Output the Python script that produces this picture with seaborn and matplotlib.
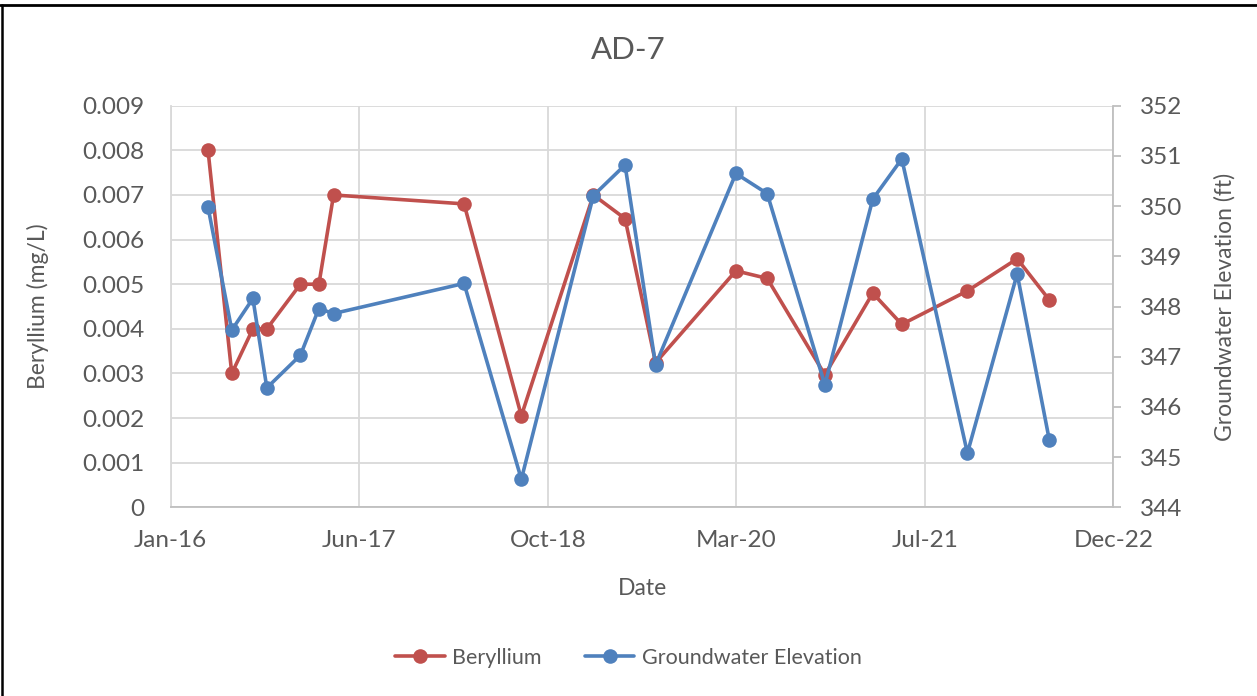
import matplotlib
matplotlib.use("Agg")
import matplotlib.pyplot as plt
import matplotlib.dates as mdates
from matplotlib.lines import Line2D
import pandas as pd
import seaborn as sns

# ---- data ----
dates = ["2016-05-09", "2016-07-11", "2016-09-05", "2016-10-12", "2017-01-09",
         "2017-02-27", "2017-04-07", "2018-03-19", "2018-08-18", "2019-02-25",
         "2019-05-20", "2019-08-09", "2020-03-09", "2020-05-31", "2020-10-31",
         "2021-03-07", "2021-05-23", "2021-11-13", "2022-03-25", "2022-06-18"]
beryllium = [0.0080, 0.0030, 0.0040, 0.0040, 0.0050,
             0.0050, 0.0070, 0.0068, 0.00205, 0.0070,
             0.00647, 0.00324, 0.0053, 0.00513, 0.00297,
             0.0048, 0.0041, 0.00485, 0.00557, 0.00465]
groundwater = [349.98, 347.53, 348.16, 346.38, 347.03,
               347.96, 347.86, 348.46, 344.56, 350.21,
               350.82, 346.84, 350.65, 350.25, 346.44,
               350.14, 350.94, 345.08, 348.65, 345.35]
x_ticks = ["2016-01-31", "2017-06-14", "2018-10-27", "2020-03-10", "2021-07-23", "2022-12-05"]
series_names = ["Beryllium", "Groundwater Elevation"]

RED = "#C0504D"
BLUE = "#4F81BD"
TXT = "#595959"
GRID = "#D9D9D9"

sns.set_style("white")
plt.rcParams["font.family"] = ["Lato", "DejaVu Sans"]

df = pd.DataFrame({"date": pd.to_datetime(dates), "be": beryllium, "gw": groundwater})

fig = plt.figure(figsize=(12.57, 6.96), dpi=100)
ax = fig.add_axes([0.1358, 0.2711, 0.7499, 0.5770])
ax2 = ax.twinx()

sns.lineplot(data=df, x="date", y="be", ax=ax, color=RED, lw=2.6, marker="o",
             markersize=10.5, markeredgewidth=0, legend=False)
sns.lineplot(data=df, x="date", y="gw", ax=ax2, color=BLUE, lw=2.6, marker="o",
             markersize=10.5, markeredgewidth=0, legend=False)

tick_dates = pd.to_datetime(x_ticks)
ax.set_xlim(tick_dates[0], tick_dates[-1])
ax.set_xticks(tick_dates)
ax.xaxis.set_major_formatter(mdates.DateFormatter("%b-%y"))

ax.set_ylim(0, 0.009)
ax.set_yticks([i * 0.001 for i in range(10)])
ax.set_yticklabels(["0"] + [f"{i*0.001:.3f}" for i in range(1, 10)])
ax2.set_ylim(344, 352)
ax2.set_yticks(range(344, 353))

ax.grid(True, color=GRID, lw=1.3)
ax.set_axisbelow(True)
ax2.grid(False)

for a in (ax, ax2):
    for s in a.spines.values():
        s.set_visible(False)
ax.spines["bottom"].set_visible(True)
ax.spines["bottom"].set_color("#BFBFBF")
ax.spines["bottom"].set_linewidth(1.3)
ax.spines["left"].set_visible(True)
ax.spines["left"].set_color(GRID)
ax.spines["left"].set_linewidth(1.3)
ax2.spines["right"].set_visible(True)
ax2.spines["right"].set_color("#BFBFBF")
ax2.spines["right"].set_linewidth(1.3)

ax.tick_params(axis="y", length=0, pad=19, labelsize=17.5, labelcolor=TXT)
ax.tick_params(axis="x", length=0, pad=16, labelsize=17.5, labelcolor=TXT)
ax2.tick_params(axis="y", length=6, width=1.3, color="#BFBFBF", direction="out",
                pad=13, labelsize=17.5, labelcolor=TXT)

ax.set_xlabel("Date", fontsize=16.5, color=TXT)
ax.set_ylabel("Beryllium (mg/L)", fontsize=16.5, color=TXT)
ax2.set_ylabel("Groundwater Elevation (ft)", fontsize=16.5, color=TXT)
ax.xaxis.label.set_va("center")
ax.yaxis.label.set_va("center")
ax2.yaxis.label.set_va("center")
ax.xaxis.set_label_coords(0.5, -0.201)
ax.yaxis.set_label_coords(-0.141, 0.5)
ax2.yaxis.set_label_coords(1.1185, 0.5)

fig.text(0.5, 1 - 50 / 696, "AD-7", ha="center", va="center", fontsize=22.5, color=TXT)

handles = [Line2D([], [], color=RED, lw=2.6, marker="o", markersize=10.5, markeredgewidth=0),
           Line2D([], [], color=BLUE, lw=2.6, marker="o", markersize=10.5, markeredgewidth=0)]
fig.legend(handles, series_names, loc="center", bbox_to_anchor=(0.5, 1 - 658 / 696),
           ncol=2, frameon=False, fontsize=15.5, labelcolor=TXT, handlelength=2.3,
           handletextpad=0.35, columnspacing=2.0)

# chart-area frame: visible on top and left edges only
fig.add_artist(Line2D([0, 1], [1 - 4.5 / 696, 1 - 4.5 / 696], transform=fig.transFigure,
                      color="black", lw=2))
fig.add_artist(Line2D([2 / 1257, 2 / 1257], [0, 1 - 4.5 / 696], transform=fig.transFigure,
                      color="black", lw=1.8))

fig.savefig("out.png", dpi=100)
